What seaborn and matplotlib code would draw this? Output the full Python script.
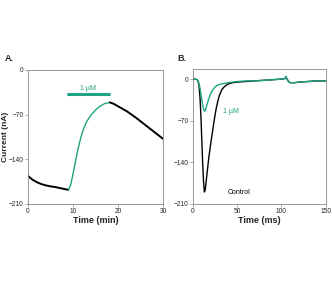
import numpy as np
import pandas as pd
import seaborn as sns
import matplotlib.pyplot as plt

# panel A: current vs time (min)
a_ctrl1_t = [0, 0.5, 1, 2, 3, 4, 5, 6, 7, 8, 9]
a_ctrl1_i = [-166, -169, -172, -176, -179, -181, -182.5, -183.5, -185, -186.5, -188]
a_drug_t = [9, 9.5, 10, 10.5, 11, 11.5, 12, 12.5, 13, 13.5, 14, 15, 16, 17, 18.2]
a_drug_i = [-188, -180, -164, -146, -128, -113, -100, -90, -82, -76, -71, -63, -57, -53, -51]
a_ctrl2_t = [18.2, 19, 20, 22, 24, 26, 28, 30]
a_ctrl2_i = [-51, -53, -57, -65, -75, -86, -97, -108]
bar_start, bar_end, bar_y = 8.9, 17.9, -38

# panel B: current vs time (ms)
b_t = [0, 3, 5, 6, 7, 8, 9, 10, 11, 12, 13, 14, 15, 16, 18, 20, 22, 24, 26, 28, 30, 33, 36,
       40, 45, 50, 60, 70, 80, 90, 100, 104, 105, 106, 108, 110, 115, 120, 130, 140, 150]
b_control = [0, 0, -1, -4, -12, -30, -60, -100, -140, -172, -190, -186, -172, -158, -132, -110,
             -90, -70, -52, -38, -27, -17, -12, -8, -6, -5, -4, -3, -2, -1, 0, 1, 4, 1, -4, -6, -6, -5, -4, -3, -3]
b_drug = [0, 0, -1, -3, -8, -15, -24, -34, -43, -50, -54, -53, -48, -42, -33, -25, -19, -15, -12, -10,
          -9, -8, -7, -6, -5, -4, -3, -3, -2, -1, 0, 1, 5, 1, -4, -6, -6, -5, -4, -3, -3]

green = "#1fa383"
sns.set_style("white")
plt.rcParams['font.family'] = ['Liberation Sans', 'DejaVu Sans']

fig = plt.figure(figsize=(3.32, 2.84), dpi=100)
axA = fig.add_axes([0.084, 0.282, 0.407, 0.472])
axB = fig.add_axes([0.581, 0.282, 0.400, 0.475])

sns.lineplot(x=a_ctrl1_t, y=a_ctrl1_i, ax=axA, color="black", lw=1.4)
sns.lineplot(x=a_drug_t, y=a_drug_i, ax=axA, color=green, lw=1.0)
sns.lineplot(x=a_ctrl2_t, y=a_ctrl2_i, ax=axA, color="black", lw=1.4)
axA.plot([bar_start, bar_end], [bar_y, bar_y], color=green, lw=2.2)
axA.text((bar_start + bar_end) / 2, bar_y + 4, "1 µM", color=green, fontsize=5, ha="center", va="bottom")
axA.set_xlim(0, 30)
axA.set_ylim(-210, 0)
axA.set_xticks([0, 10, 20, 30])
axA.set_yticks([0, -70, -140, -210])
axA.set_xlabel("Time (min)", fontsize=6.5, fontweight="bold", labelpad=1)
axA.set_ylabel("Current (nA)", fontsize=6.0, fontweight="bold")
axA.yaxis.set_label_coords(-0.14, 0.5)

sns.lineplot(x=b_t, y=b_control, ax=axB, color="black", lw=1.0)
sns.lineplot(x=b_t, y=b_drug, ax=axB, color=green, lw=1.0)
axB.text(34, -54, "1 µM", color=green, fontsize=5, va="center")
axB.text(39, -190, "Control", color="black", fontsize=5, va="center")
axB.set_xlim(0, 150)
axB.set_ylim(-210, 17)
axB.set_xticks([0, 50, 100, 150])
axB.set_yticks([0, -70, -140, -210])
axB.set_xlabel("Time (ms)", fontsize=6.5, fontweight="bold", labelpad=1)

for ax in (axA, axB):
    for s in ax.spines.values():
        s.set_color("#888888")
        s.set_linewidth(0.6)
    ax.tick_params(axis="both", labelsize=4.8, length=2, width=0.5, pad=1,
                   bottom=True, left=True, color="#888888")

fig.text(0.015, 0.785, "A.", fontsize=6.5, fontweight="bold")
fig.text(0.535, 0.785, "B.", fontsize=6.5, fontweight="bold")

fig.savefig("out.png", dpi=100)
